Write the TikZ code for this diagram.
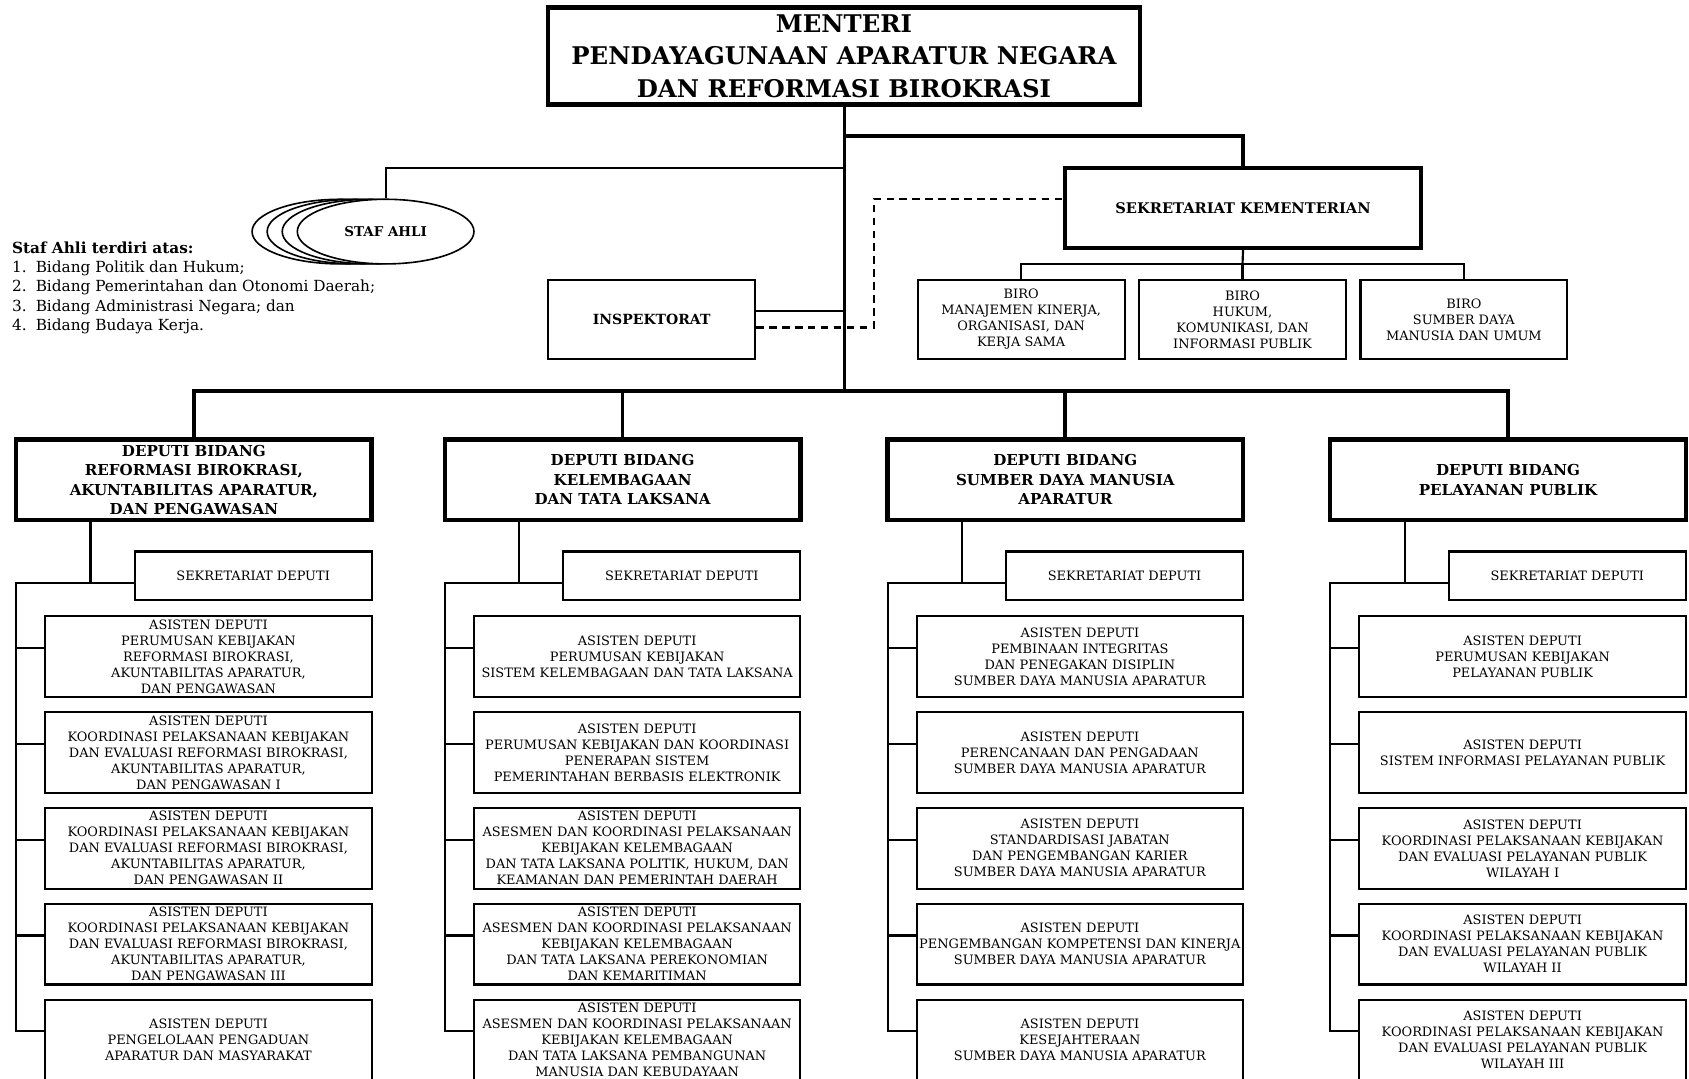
\documentclass[tikz,border=0pt]{standalone}
\usepackage{fontspec}
\setmainfont{DejaVu Serif}
\usetikzlibrary{shapes.geometric}
\tikzset{
  bigbox/.style={draw, line width=4pt, inner sep=0pt, align=center, font=\bfseries\fontsize{14}{18}\selectfont},
  midbox/.style={draw, line width=2pt, inner sep=0pt, align=center, font=\bfseries\fontsize{13}{16}\selectfont},
  smallbox/.style={draw, line width=2pt, inner sep=0pt, align=center, font=\fontsize{12}{14.85}\selectfont},
  stafell/.style={draw, ellipse, line width=1.5pt, fill=white, inner sep=0pt, minimum width=164pt, minimum height=60pt},
  trunk/.style={line width=3.5pt},
  thinline/.style={line width=2pt},
  dashline/.style={line width=2pt, dash pattern=on 7pt off 5pt},
}
\newcommand\asbox[4]{\node[smallbox, minimum width=303pt, minimum height=75pt] (#1) at (#2,#3) {#4};}
\begin{document}
\begin{tikzpicture}[x=1pt,y=-1pt]
\useasboundingbox (0,0) rectangle (1568,1001);
\clip (0,0) rectangle (1568,1001);

% top
\node[bigbox, minimum width=549pt, minimum height=90pt, font=\bfseries\fontsize{22.6}{30}\selectfont] (men) at (783.5,52)
  {MENTERI\\PENDAYAGUNAAN APARATUR NEGARA\\DAN REFORMASI BIROKRASI};
\node[bigbox, minimum width=330pt, minimum height=74pt, font=\bfseries\fontsize{13.6}{16}\selectfont] (sek) at (1154,193) {SEKRETARIAT KEMENTERIAN};
\node[midbox, minimum width=192pt, minimum height=73pt] (insp) at (605,296.5) {INSPEKTORAT};

\node[smallbox, minimum width=192pt, minimum height=73pt] (b1) at (948,296.5) {BIRO\\MANAJEMEN KINERJA,\\ORGANISASI, DAN\\KERJA SAMA};
\node[smallbox, minimum width=192pt, minimum height=73pt] (b2) at (1153.5,296.5) {BIRO\\HUKUM,\\KOMUNIKASI, DAN\\INFORMASI PUBLIK};
\node[smallbox, minimum width=192pt, minimum height=73pt] (b3) at (1359,296.5) {BIRO\\SUMBER DAYA\\MANUSIA DAN UMUM};

% staf ahli
\node[stafell] (sa3) at (316,215) {};
\node[stafell] (sa2) at (330,215) {};
\node[stafell] (sa1) at (344,215) {};
\node[stafell, font=\bfseries\fontsize{12.5}{15}\selectfont] (sa) at (358,215) {STAF AHLI};

\node[anchor=north west, inner sep=0pt, align=left, font=\fontsize{14.2}{17.75}\selectfont] (list) at (11,224.5)
 {\textbf{Staf Ahli terdiri atas:}\\
  \makebox[22pt][l]{1.}Bidang Politik dan Hukum;\\
  \makebox[22pt][l]{2.}Bidang Pemerintahan dan Otonomi Daerah;\\
  \makebox[22pt][l]{3.}Bidang Administrasi Negara; dan\\
  \makebox[22pt][l]{4.}Bidang Budaya Kerja.};

% deputi
\node[bigbox, minimum width=330pt, minimum height=75pt] (d1) at (180,445.5) {DEPUTI BIDANG\\REFORMASI BIROKRASI,\\AKUNTABILITAS APARATUR,\\DAN PENGAWASAN};
\node[bigbox, minimum width=330pt, minimum height=75pt] (d2) at (578,445.5) {DEPUTI BIDANG\\KELEMBAGAAN\\DAN TATA LAKSANA};
\node[bigbox, minimum width=330pt, minimum height=75pt] (d3) at (989,445.5) {DEPUTI BIDANG\\SUMBER DAYA MANUSIA\\APARATUR};
\node[bigbox, minimum width=330pt, minimum height=75pt] (d4) at (1400,445.5) {DEPUTI BIDANG\\PELAYANAN PUBLIK};

% sekretariat deputi
\foreach \c/\L in {1/15,2/413,3/824,4/1235}{
  \node[smallbox, minimum width=220pt, minimum height=45pt] (sd\c) at (\L+220,534.5) {SEKRETARIAT DEPUTI};
}

% column 1
\asbox{a1-1}{193.5}{609.5}{ASISTEN DEPUTI\\PERUMUSAN KEBIJAKAN\\REFORMASI BIROKRASI,\\AKUNTABILITAS APARATUR,\\DAN PENGAWASAN}
\asbox{a1-2}{193.5}{698.5}{ASISTEN DEPUTI\\KOORDINASI PELAKSANAAN KEBIJAKAN\\DAN EVALUASI REFORMASI BIROKRASI,\\AKUNTABILITAS APARATUR,\\DAN PENGAWASAN I}
\asbox{a1-3}{193.5}{787.5}{ASISTEN DEPUTI\\KOORDINASI PELAKSANAAN KEBIJAKAN\\DAN EVALUASI REFORMASI BIROKRASI,\\AKUNTABILITAS APARATUR,\\DAN PENGAWASAN II}
\asbox{a1-4}{193.5}{876.5}{ASISTEN DEPUTI\\KOORDINASI PELAKSANAAN KEBIJAKAN\\DAN EVALUASI REFORMASI BIROKRASI,\\AKUNTABILITAS APARATUR,\\DAN PENGAWASAN III}
\asbox{a1-5}{193.5}{965.5}{ASISTEN DEPUTI\\PENGELOLAAN PENGADUAN\\APARATUR DAN MASYARAKAT}
% column 2
\asbox{a2-1}{591.5}{609.5}{ASISTEN DEPUTI\\PERUMUSAN KEBIJAKAN\\SISTEM KELEMBAGAAN DAN TATA LAKSANA}
\asbox{a2-2}{591.5}{698.5}{ASISTEN DEPUTI\\PERUMUSAN KEBIJAKAN DAN KOORDINASI\\PENERAPAN SISTEM\\PEMERINTAHAN BERBASIS ELEKTRONIK}
\asbox{a2-3}{591.5}{787.5}{ASISTEN DEPUTI\\ASESMEN DAN KOORDINASI PELAKSANAAN\\KEBIJAKAN KELEMBAGAAN\\DAN TATA LAKSANA POLITIK, HUKUM, DAN\\KEAMANAN DAN PEMERINTAH DAERAH}
\asbox{a2-4}{591.5}{876.5}{ASISTEN DEPUTI\\ASESMEN DAN KOORDINASI PELAKSANAAN\\KEBIJAKAN KELEMBAGAAN\\DAN TATA LAKSANA PEREKONOMIAN\\DAN KEMARITIMAN}
\asbox{a2-5}{591.5}{965.5}{ASISTEN DEPUTI\\ASESMEN DAN KOORDINASI PELAKSANAAN\\KEBIJAKAN KELEMBAGAAN\\DAN TATA LAKSANA PEMBANGUNAN\\MANUSIA DAN KEBUDAYAAN}
% column 3
\asbox{a3-1}{1002.5}{609.5}{ASISTEN DEPUTI\\PEMBINAAN INTEGRITAS\\DAN PENEGAKAN DISIPLIN\\SUMBER DAYA MANUSIA APARATUR}
\asbox{a3-2}{1002.5}{698.5}{ASISTEN DEPUTI\\PERENCANAAN DAN PENGADAAN\\SUMBER DAYA MANUSIA APARATUR}
\asbox{a3-3}{1002.5}{787.5}{ASISTEN DEPUTI\\STANDARDISASI JABATAN\\DAN PENGEMBANGAN KARIER\\SUMBER DAYA MANUSIA APARATUR}
\asbox{a3-4}{1002.5}{876.5}{ASISTEN DEPUTI\\PENGEMBANGAN KOMPETENSI DAN KINERJA\\SUMBER DAYA MANUSIA APARATUR}
\asbox{a3-5}{1002.5}{965.5}{ASISTEN DEPUTI\\KESEJAHTERAAN\\SUMBER DAYA MANUSIA APARATUR}
% column 4
\asbox{a4-1}{1413.5}{609.5}{ASISTEN DEPUTI\\PERUMUSAN KEBIJAKAN\\PELAYANAN PUBLIK}
\asbox{a4-2}{1413.5}{698.5}{ASISTEN DEPUTI\\SISTEM INFORMASI PELAYANAN PUBLIK}
\asbox{a4-3}{1413.5}{787.5}{ASISTEN DEPUTI\\KOORDINASI PELAKSANAAN KEBIJAKAN\\DAN EVALUASI PELAYANAN PUBLIK\\WILAYAH I}
\asbox{a4-4}{1413.5}{876.5}{ASISTEN DEPUTI\\KOORDINASI PELAKSANAAN KEBIJAKAN\\DAN EVALUASI PELAYANAN PUBLIK\\WILAYAH II}
\asbox{a4-5}{1413.5}{965.5}{ASISTEN DEPUTI\\KOORDINASI PELAKSANAAN KEBIJAKAN\\DAN EVALUASI PELAYANAN PUBLIK\\WILAYAH III}

% connectors top
\coordinate (bar) at (784,363);
\coordinate (j1) at (784,126);
\coordinate (j2) at (784,156);
\coordinate (bj) at (1153.5,245);
\coordinate (ij) at (784,289);
\coordinate (dj) at (811,304);
\draw[trunk] (men.south -| bar) -- (bar);
\draw[trunk] (j1) -| (sek.north);
\draw[thinline] (j2) -| (sa.north);
\draw[thinline] (sek.south) -- (bj);
\draw[thinline] (b1.north) |- (bj) -| (b3.north);
\draw[thinline] (b2.north) -- (bj);
\draw[thinline] (insp.east |- ij) -- (ij);
\draw[dashline] (insp.east |- dj) -- (dj) |- ([yshift=8pt]sek.west);
\draw[trunk] (d1.north) |- (bar) -| (d4.north);
\draw[trunk] (d2.north) -- (d2.north |- bar);
\draw[trunk] (d3.north) -- (d3.north |- bar);

% columns
\foreach \c/\L in {1/15,2/413,3/824,4/1235}{
  \coordinate (sp\c) at (\L,541.5);
  \coordinate (vt\c) at (\L+69,541.5);
  \draw[thinline] (d\c.south -| vt\c) -- (vt\c);
  \draw[thinline] (sd\c.west |- sp\c) -- (sp\c) |- ([yshift=8pt]a\c-5.west);
  \foreach \k in {1,...,4} \draw[thinline] ([yshift=8pt]a\c-\k.west) -- ++(-27,0);
}
\end{tikzpicture}
\end{document}
